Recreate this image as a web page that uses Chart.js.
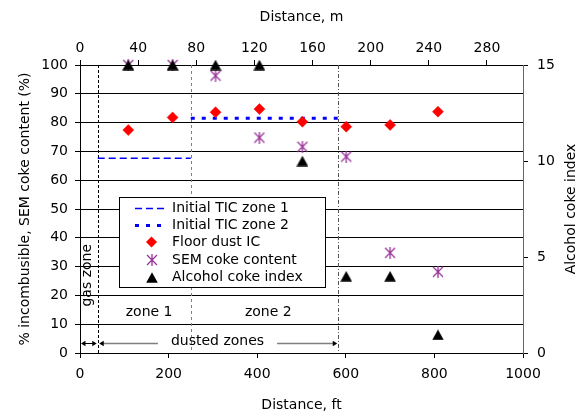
<!DOCTYPE html>
<html><head><meta charset="utf-8">
<script src="https://cdn.jsdelivr.net/npm/chart.js@4/dist/chart.umd.min.js"></script>
<style>html,body{margin:0;padding:0;background:#fff}#wrap{width:587px;height:416px}</style>
</head><body><div id="wrap"><canvas id="c" width="587" height="416"></canvas></div>
<script>
// ---- data ----
const distanceFt   = [109, 209, 306, 405, 502, 601, 700, 808];
const floorDustIC  = [77.4, 81.8, 83.6, 84.7, 80.3, 78.6, 79.2, 83.8];
const semCoke      = [100, 100, 96.3, 74.8, 71.6, 68.2, 34.8, 28.2];
const alcoholIndex = [15, 15, 15, 15, 10, 4, 4, 0.95];
const ticZone1Ft = [40, 250];
const ticZone1   = [67.6, 67.6];
const ticZone2Ft = [250, 583];
const ticZone2   = [81.5, 81.5];
const zoneBoundsFt = [40, 250, 583];
const ftTicks  = [0, 200, 400, 600, 800, 1000];
const mTicks   = [0, 40, 80, 120, 160, 200, 240, 280];
const pctTicks = [0, 10, 20, 30, 40, 50, 60, 70, 80, 90, 100];
const idxTicks = [0, 5, 10, 15];
const FT_PER_M = 3.28084;

const FONT = 'DejaVu Sans';
Chart.defaults.font.family = FONT;
Chart.defaults.font.size = 14;
Chart.defaults.color = '#000';

const PURPLE = '#993399';
function asteriskImg() {
  const c = document.createElement('canvas'); c.width = 12; c.height = 12;
  const g = c.getContext('2d'); g.strokeStyle = PURPLE; g.lineWidth = 1.3;
  g.beginPath();
  g.moveTo(1, 1); g.lineTo(11, 11);
  g.moveTo(11, 1); g.lineTo(1, 11);
  g.moveTo(6, 0); g.lineTo(6, 12);
  g.stroke();
  return c;
}
function triangleImg() {
  const c = document.createElement('canvas'); c.width = 12; c.height = 11;
  const g = c.getContext('2d'); g.fillStyle = '#000';
  g.beginPath(); g.moveTo(6, 0.3); g.lineTo(11.8, 10.8); g.lineTo(0.2, 10.8); g.closePath(); g.fill();
  return c;
}
const ASTER = asteriskImg();
const TRI = triangleImg();

const pts = (xs, ys) => xs.map((x, i) => ({x: x, y: ys[i]}));

// ---- annotation + legend plugin ----
const zonePlugin = {
  id: 'zones',
  beforeDatasetsDraw(chart) {
    const {ctx, chartArea: a, scales} = chart;
    const xs = scales.x;
    const styles = [
      {color: '#000', dash: [3, 2]},
      {color: '#808080', dash: [3, 3]},
      {color: '#555', dash: [4, 2, 1, 2]}
    ];
    ctx.save();
    zoneBoundsFt.forEach((f, i) => {
      const px = Math.round(xs.getPixelForValue(f)) + 0.5;
      ctx.strokeStyle = styles[i].color; ctx.lineWidth = 1; ctx.setLineDash(styles[i].dash);
      ctx.beginPath(); ctx.moveTo(px, a.top); ctx.lineTo(px, a.bottom); ctx.stroke();
    });
    ctx.restore();
  },
  afterDatasetsDraw(chart) {
    const {ctx, scales, chartArea: a} = chart;
    const xs = scales.x, ys = scales.y;
    ctx.save();
    ctx.font = '14px "' + FONT + '"';
    ctx.fillStyle = '#000';
    ctx.textBaseline = 'middle';
    ctx.textAlign = 'center';
    // right axis title (reads bottom to top)
    ctx.save();
    ctx.translate(571, (a.top + a.bottom) / 2);
    ctx.rotate(-Math.PI / 2);
    ctx.fillText('Alcohol coke index', 0, 0);
    ctx.restore();
    // zone texts
    ctx.fillText('zone 1', xs.getPixelForValue(156), ys.getPixelForValue(14.2));
    ctx.fillText('zone 2', xs.getPixelForValue(425), ys.getPixelForValue(14.2));
    ctx.save();
    ctx.translate(xs.getPixelForValue(17), ys.getPixelForValue(27));
    ctx.rotate(-Math.PI / 2);
    ctx.fillText('gas zone', 0, 0);
    ctx.restore();
    // arrows
    const ay = Math.round(ys.getPixelForValue(3.6)) + 0.5;
    const head = (x, dir) => {
      ctx.fillStyle = '#000';
      ctx.beginPath(); ctx.moveTo(x, ay); ctx.lineTo(x - dir * 4.5, ay - 2.8); ctx.lineTo(x - dir * 4.5, ay + 2.8); ctx.closePath(); ctx.fill();
    };
    const x0 = xs.getPixelForValue(0), x1 = xs.getPixelForValue(zoneBoundsFt[0]), x3 = xs.getPixelForValue(zoneBoundsFt[2]);
    ctx.strokeStyle = '#000'; ctx.lineWidth = 1;
    ctx.beginPath(); ctx.moveTo(x0 + 2, ay); ctx.lineTo(x1 - 2, ay); ctx.stroke();
    head(x0 + 1, -1); head(x1 - 1, 1);
    const tx = (x1 + x3) / 2 - 0.5;
    const label = 'dusted zones';
    const tw = ctx.measureText(label).width;
    ctx.strokeStyle = '#808080'; ctx.lineWidth = 1.5;
    ctx.beginPath(); ctx.moveTo(x1 + 3, ay); ctx.lineTo(tx - tw / 2 - 13, ay);
    ctx.moveTo(tx + tw / 2 + 13, ay); ctx.lineTo(x3 - 3, ay); ctx.stroke();
    head(x1 + 1.5, -1); head(x3 - 1, 1);
    ctx.fillStyle = '#000';
    ctx.fillText(label, tx, ay - 2);

    // legend
    const L = 119.5, T = 197.5, R = 325.5, B = 287.5;
    ctx.fillStyle = '#fff'; ctx.fillRect(L, T, R - L, B - T);
    ctx.strokeStyle = '#000'; ctx.lineWidth = 1; ctx.setLineDash([]);
    ctx.strokeRect(L, T, R - L, B - T);
    const ds = chart.data.datasets;
    const order = [3, 4, 2, 1, 0];
    const rowY = [208, 225, 242, 259.5, 277];
    const mx = 151.5, sx0 = 135, sx1 = 166, textX = 172;
    ctx.textAlign = 'left';
    order.forEach((di, r) => {
      const d = ds[di];
      const y = rowY[r];
      if (d.showLine) {
        ctx.save();
        ctx.strokeStyle = d.borderColor; ctx.lineWidth = d.borderWidth; ctx.setLineDash(d.borderDash);
        ctx.beginPath(); ctx.moveTo(sx0, Math.round(y) + 0.5); ctx.lineTo(sx1, Math.round(y) + 0.5); ctx.stroke();
        ctx.restore();
      } else if (d.pointStyle instanceof HTMLCanvasElement) {
        ctx.drawImage(d.pointStyle, Math.round(mx - d.pointStyle.width / 2), Math.round(y - d.pointStyle.height / 2));
      } else {
        const rr = d.pointRadius;
        ctx.fillStyle = d.pointBackgroundColor;
        ctx.beginPath(); ctx.moveTo(mx, y - rr); ctx.lineTo(mx + rr, y); ctx.lineTo(mx, y + rr); ctx.lineTo(mx - rr, y); ctx.closePath(); ctx.fill();
      }
      ctx.fillStyle = '#000';
      ctx.fillText(d.label, textX, y + 0.5);
    });
    ctx.restore();
  }
};

const tickFont = {family: FONT, size: 14};
function fixTicks(list) { return s => { s.ticks = list.map(v => ({value: v})); }; }
const plain = v => String(v);

new Chart(document.getElementById('c'), {
  type: 'scatter',
  data: {
    datasets: [
      {label: 'Alcohol coke index', data: pts(distanceFt, alcoholIndex), yAxisID: 'y2', xAxisID: 'x',
       pointStyle: TRI, pointRadius: 6, showLine: false, order: 1, clip: false},
      {label: 'SEM coke content', data: pts(distanceFt, semCoke), yAxisID: 'y', xAxisID: 'x',
       pointStyle: ASTER, pointRadius: 6, showLine: false, order: 2, clip: false},
      {label: 'Floor dust IC', data: pts(distanceFt, floorDustIC), yAxisID: 'y', xAxisID: 'x',
       pointStyle: 'rectRot', pointRadius: 5.5, pointBackgroundColor: '#ff0000', pointBorderColor: '#ff0000',
       pointBorderWidth: 0.5, showLine: false, order: 3, clip: false},
      {label: 'Initial TIC zone 1', data: pts(ticZone1Ft, ticZone1), yAxisID: 'y', xAxisID: 'x',
       showLine: true, borderColor: '#0000ff', borderWidth: 1.5, borderDash: [7, 4], pointRadius: 0, order: 4},
      {label: 'Initial TIC zone 2', data: pts(ticZone2Ft, ticZone2), yAxisID: 'y', xAxisID: 'x',
       showLine: true, borderColor: '#0000ff', borderWidth: 3, borderDash: [4, 7], pointRadius: 0, order: 5}
    ]
  },
  options: {
    responsive: false, animation: false, devicePixelRatio: 1,
    layout: {padding: 0},
    plugins: {legend: {display: false}, tooltip: {enabled: false}},
    scales: {
      x: {type: 'linear', position: 'bottom', min: 0, max: 1000,
          afterBuildTicks: fixTicks(ftTicks),
          grid: {drawOnChartArea: false, drawTicks: true, tickLength: 5, color: '#000'},
          border: {color: '#000'},
          ticks: {font: tickFont, padding: 8, maxRotation: 0, autoSkip: false, color: '#000', callback: plain},
          title: {display: true, text: 'Distance, ft', font: tickFont, color: '#000', padding: {top: 0, bottom: 2}},
          afterFit: s => { s.height = 63; }},
      x2: {type: 'linear', position: 'top', min: 0, max: 1000 / FT_PER_M,
          afterBuildTicks: fixTicks(mTicks),
          grid: {drawOnChartArea: false, drawTicks: true, tickLength: 5, color: '#000'},
          border: {color: '#000'},
          ticks: {font: tickFont, padding: 3, maxRotation: 0, autoSkip: false, color: '#000', callback: plain},
          title: {display: true, text: 'Distance, m', font: tickFont, color: '#000', padding: {top: 8.5, bottom: 0}},
          afterFit: s => { s.height = 65; }},
      y: {type: 'linear', position: 'left', min: 0, max: 100,
          afterBuildTicks: fixTicks(pctTicks),
          grid: {drawOnChartArea: true, drawTicks: true, tickLength: 5, color: '#000'},
          border: {color: '#000'},
          ticks: {font: tickFont, padding: 7, color: '#000', callback: plain},
          title: {display: true, text: '% incombusible, SEM coke content (%)', font: tickFont, color: '#000', padding: {top: 17, bottom: 0}},
          afterFit: s => { s.width = 80; }},
      y2: {type: 'linear', position: 'right', min: 0, max: 15,
          afterBuildTicks: fixTicks(idxTicks),
          grid: {drawOnChartArea: false, drawTicks: true, tickLength: 5, color: '#000'},
          border: {color: '#666'},
          ticks: {font: tickFont, padding: 9, color: '#000', callback: plain},
          title: {display: false},
          afterFit: s => { s.width = 64; }}
    }
  },
  plugins: [zonePlugin]
});
</script></body></html>
